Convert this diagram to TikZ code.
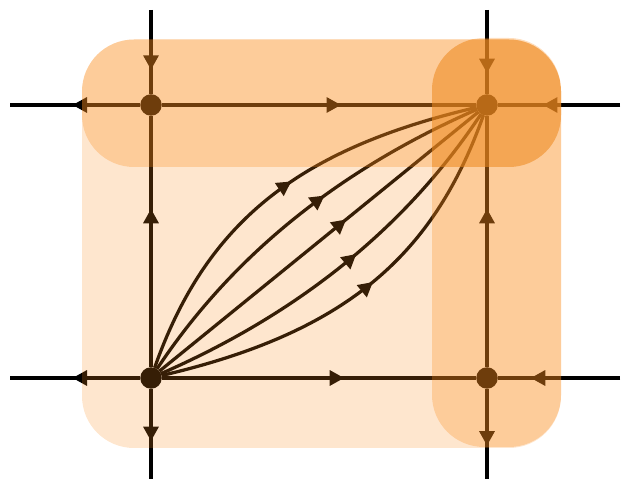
\documentclass[tikz,border=0pt]{standalone}
\usetikzlibrary{arrows.meta,decorations.markings}
\definecolor{Amber}{HTML}{FA8C1E}
\definecolor{DeepAmber}{HTML}{E98A22}

\begin{document}
\begin{tikzpicture}[x=0.02cm,y=0.02cm,line width=1.85pt,fixpt/.style={circle,fill=black,inner sep=0pt,outer sep=0pt,minimum size=0.43cm},flow/.style={postaction={decorate},decoration={markings,mark=at position #1 with {\arrow{Triangle[length=0.29cm,width=0.3cm]}}}},zone/.style={rounded corners=1.04cm,fill=Amber,fill opacity=#1}]
\useasboundingbox (0,0) rectangle (621,479);
\node[fixpt] (bl) at (151,101) {};
\node[fixpt] (br) at (487,101) {};
\node[fixpt] (tl) at (151,374) {};
\node[fixpt] (tr) at (487,374) {};
\coordinate (tlN) at (151,469);
\coordinate (tlW) at (10,374);
\coordinate (trN) at (487,469);
\coordinate (trE) at (620,374);
\coordinate (blW) at (10,101);
\coordinate (blS) at (151,0);
\coordinate (brE) at (620,101);
\coordinate (brS) at (487,0);
\draw[flow=0.71] (tlN) -- (tl);
\draw[flow=0.52] (tl) -- (tlW);
\draw[flow=0.75] (trN) -- (tr);
\draw[flow=0.63] (trE) -- (tr);
\draw[flow=0.52] (bl) -- (blW);
\draw[flow=0.58] (bl) -- (blS);
\draw[flow=0.73] (brE) -- (br);
\draw[flow=0.63] (br) -- (brS);
\draw[flow=0.57] (tl) -- (tr);
\draw[flow=0.58] (bl) -- (br);
\draw[flow=0.63] (bl) -- (tl);
\draw[flow=0.63] (br) -- (tr);
\draw[flow=0.54] (bl) .. controls +(54.5,154.5) and +(-190.2,-44.3) .. (tr);
\draw[flow=0.58] (bl) .. controls +(80.1,121.1) and +(-149.0,-65.1) .. (tr);
\draw[flow=0.585] (bl) -- (tr);
\draw[flow=0.55] (bl) .. controls +(149.0,65.1) and +(-80.1,-121.1) .. (tr);
\draw[flow=0.535] (bl) .. controls +(190.2,44.3) and +(-54.5,-154.5) .. (tr);
\fill[zone=0.22] (82,31) rectangle (561,439.5);
\fill[zone=0.29] (82,312) rectangle (561,439.5);
\fill[zone=0.29] (432,32) rectangle (561,441);
\begin{scope}
\clip[rounded corners=1.04cm] (82,312) rectangle (561,439.5);
\fill[zone=0.4,fill=DeepAmber] (432,32) rectangle (561,441);
\end{scope}
\end{tikzpicture}
\end{document}
